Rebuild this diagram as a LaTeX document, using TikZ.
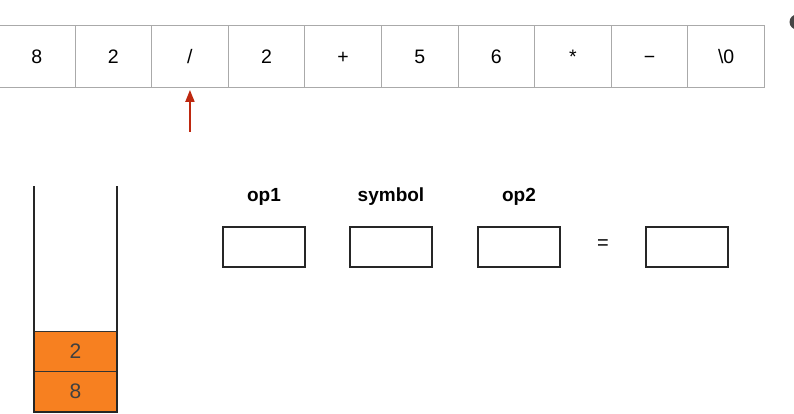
\documentclass[tikz,border=0pt]{standalone}
\usepackage{fontspec}
\setmainfont{Liberation Sans}
\usetikzlibrary{arrows.meta}
\definecolor{cellgray}{RGB}{170,170,170}
\definecolor{arrred}{RGB}{190,40,15}
\definecolor{stackorange}{RGB}{247,128,32}
\definecolor{dotgray}{RGB}{70,70,70}
\begin{document}
\begin{tikzpicture}[x=1pt,y=-1pt,
  cell/.style={draw=cellgray,line width=0.9pt,minimum width=76.6pt,minimum height=62pt,inner sep=0pt,font=\fontsize{19.5}{19.5}\selectfont,text height=14pt,text depth=0pt,anchor=north west},
  slot/.style={draw=black!85,line width=1.3pt,minimum width=82pt,minimum height=40pt,inner sep=0pt},
  lbl/.style={font=\fontsize{19}{19}\selectfont\bfseries},
  elem/.style={draw=black!80,fill=stackorange,line width=1pt,minimum width=83pt,minimum height=40pt,inner sep=0pt,font=\fontsize{21}{21}\selectfont,text=black!75}]
\useasboundingbox (0,0) rectangle (794,414);
\fill[white] (0,0) rectangle (794,414);
% array
\node[cell] (c0) at (-2,25) {8};
\node[cell] (c1) at (74.6,25) {2};
\node[cell] (c2) at (151.2,25) {/};
\node[cell] (c3) at (227.8,25) {2};
\node[cell] (c4) at (304.4,25) {+};
\node[cell] (c5) at (381,25) {5};
\node[cell] (c6) at (457.6,25) {6};
\node[cell] (c7) at (534.2,25) {*};
\node[cell] (c8) at (610.8,25) {−};
\node[cell] (c9) at (687.4,25) {\textbackslash 0};
% pointer
\coordinate (p) at ([yshift=-44pt]c2.south);
\draw[arrred,line width=1.8pt,-{Triangle[length=12pt,width=9pt]}] (p) -- ([yshift=-2pt]c2.south);
% dot at the edge
\fill[dotgray] (797,22) circle (7.5);
% stack
\node[elem] (s8) at (75.5,391) {8};
\node[elem] (s2) at (75.5,351) {2};
\draw[black!85,line width=1.6pt] (34,186) -- (34,412) -- (117,412) -- (117,186);
% slots
\node[slot] (op1) at (264,247) {};
\node[slot] (sym) at (391,247) {};
\node[slot] (op2) at (519,247) {};
\node[slot] (res) at (687,247) {};
\node[lbl] (lop1) at (264,197) {op1};
\node[lbl] (lsym) at (391,197) {symbol};
\node[lbl] (lop2) at (519,197) {op2};
\node[font=\fontsize{20}{20}\selectfont] (eq) at (603,245) {=};
\end{tikzpicture}
\end{document}
